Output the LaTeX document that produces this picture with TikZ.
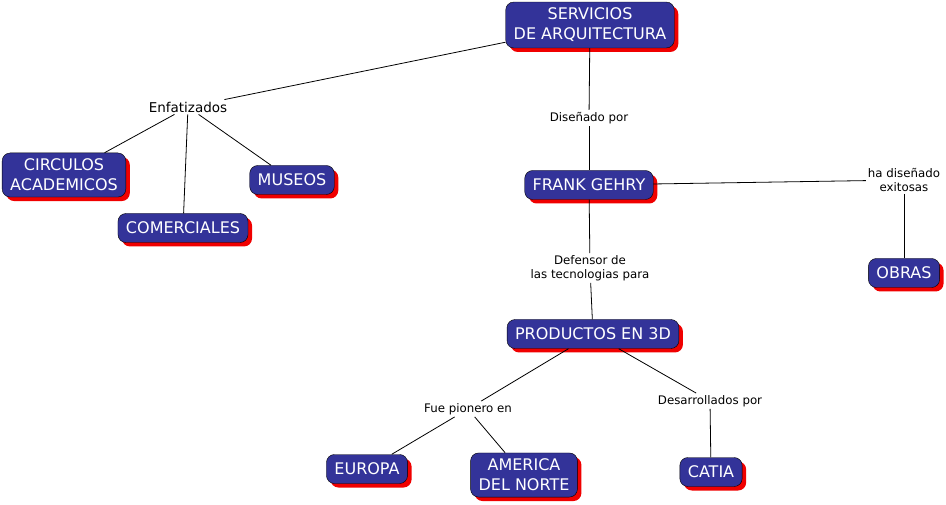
\documentclass[tikz,border=0pt]{standalone}
\usepackage{fontspec}
\setmainfont{DejaVu Sans}
\usepackage{xcolor}
\definecolor{cmapblue}{RGB}{51,51,153}
\definecolor{cmapred}{RGB}{240,0,0}
\usepackage{tikz}
\usetikzlibrary{shadows}

\begin{document}
\begin{tikzpicture}[
    x=1pt, y=-1pt,
    concept/.style={rectangle, rounded corners=8pt, draw=black, fill=cmapblue,
                    text=white, font=\fontsize{16}{20}\selectfont, align=center,
                    inner xsep=8pt, inner ysep=6pt, minimum height=29pt,
                    drop shadow={fill=cmapred, opacity=1, shadow xshift=4pt, shadow yshift=-4pt}},
    linkword/.style={font=\fontsize{11.8}{14}\selectfont, align=center,
                     inner sep=2pt, text=black},
    link/.style={draw=black, line width=0.8pt},
  ]
    \useasboundingbox (0,0) rectangle (946,505);

    % --- Concepts ---
    \node[concept] (servicios) at (590,25)  {SERVICIOS\\DE ARQUITECTURA};
    \node[concept] (circulos)  at (64,175)  {CIRCULOS\\ACADEMICOS};
    \node[concept] (comerciales) at (183,228) {COMERCIALES};
    \node[concept] (museos)    at (292,180) {MUSEOS};
    \node[concept] (gehry)     at (589,185) {FRANK GEHRY};
    \node[concept] (obras)     at (904,273) {OBRAS};
    \node[concept] (productos) at (593,334) {PRODUCTOS EN 3D};
    \node[concept] (europa)    at (367,469) {EUROPA};
    \node[concept] (america)   at (524,475) {AMERICA\\DEL NORTE};
    \node[concept] (catia)     at (711,472) {CATIA};

    % --- Linking phrases ---
    \node[linkword, font=\fontsize{13.5}{16}\selectfont] (enfatizados) at (188,107) {Enfatizados};
    \node[linkword] (disenado)  at (589,118) {Diseñado por};
    \node[linkword] (exitosas)  at (904,180) {ha diseñado\\exitosas};
    \node[linkword] (defensor)  at (590,268) {Defensor de\\las tecnologias para};
    \node[linkword] (pionero)   at (468,409) {Fue pionero en};
    \node[linkword] (desarrollo) at (710,401) {Desarrollados por};

    % --- Connectors ---
    \draw[link] (servicios) -- (enfatizados);
    \draw[link] (enfatizados) -- (circulos);
    \draw[link] (enfatizados) -- (comerciales);
    \draw[link] (enfatizados) -- (museos);
    \draw[link] (servicios) -- (disenado);
    \draw[link] (disenado) -- (gehry);
    \draw[link] (gehry) -- (exitosas);
    \draw[link] (exitosas) -- (obras);
    \draw[link] (gehry) -- (defensor);
    \draw[link] (defensor) -- (productos);
    \draw[link] (productos) -- (pionero);
    \draw[link] (pionero) -- (europa);
    \draw[link] (pionero) -- (america);
    \draw[link] (productos) -- (desarrollo);
    \draw[link] (desarrollo) -- (catia);
  \end{tikzpicture}
\end{document}
